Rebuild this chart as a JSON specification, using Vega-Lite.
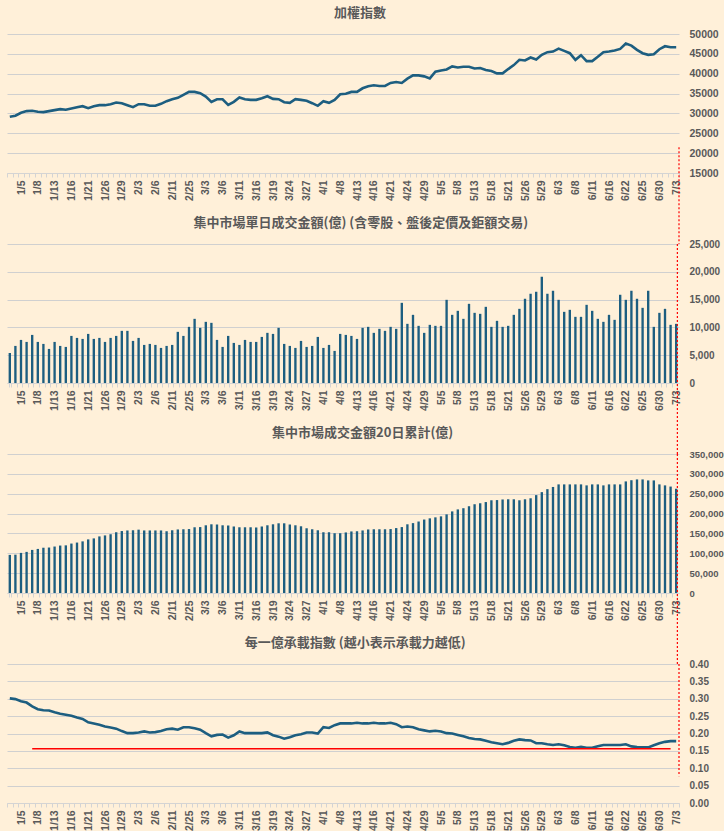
{
  "$schema": "https://vega.github.io/schema/vega-lite/v6.json",
  "background": "#FFF0D9",
  "padding": {"left": 2, "top": 7, "right": 0, "bottom": 0},
  "bounds": "flush",
  "spacing": 71,
  "data": {"values": [
    {"d":"12/31","i":29170,"v":5400,"c":96000,"r":0.301},
    {"d":"1/2","i":29420,"v":6670,"c":96500,"r":0.299},
    {"d":"1/5","i":30170,"v":7750,"c":101000,"r":0.293},
    {"d":"1/6","i":30580,"v":7390,"c":103500,"r":0.289},
    {"d":"1/7","i":30670,"v":8650,"c":108500,"r":0.278},
    {"d":"1/8","i":30420,"v":7390,"c":111000,"r":0.270},
    {"d":"1/9","i":30330,"v":7030,"c":114000,"r":0.267},
    {"d":"1/12","i":30580,"v":6130,"c":114500,"r":0.266},
    {"d":"1/13","i":30830,"v":7390,"c":117000,"r":0.261},
    {"d":"1/14","i":31080,"v":6670,"c":119500,"r":0.257},
    {"d":"1/15","i":30920,"v":6490,"c":120000,"r":0.254},
    {"d":"1/16","i":31250,"v":8470,"c":124500,"r":0.251},
    {"d":"1/19","i":31580,"v":8110,"c":127000,"r":0.246},
    {"d":"1/20","i":31830,"v":7930,"c":130000,"r":0.242},
    {"d":"1/21","i":31330,"v":8830,"c":135000,"r":0.232},
    {"d":"1/22","i":31830,"v":7930,"c":137500,"r":0.229},
    {"d":"1/23","i":32080,"v":8110,"c":142500,"r":0.225},
    {"d":"1/26","i":32080,"v":7390,"c":145000,"r":0.220},
    {"d":"1/27","i":32330,"v":8110,"c":148000,"r":0.217},
    {"d":"1/28","i":32750,"v":8470,"c":153000,"r":0.214},
    {"d":"1/29","i":32580,"v":9380,"c":156000,"r":0.207},
    {"d":"1/30","i":32080,"v":9380,"c":157500,"r":0.201},
    {"d":"2/2","i":31580,"v":7570,"c":158000,"r":0.201},
    {"d":"2/3","i":32330,"v":8110,"c":159500,"r":0.203},
    {"d":"2/4","i":32330,"v":6850,"c":157500,"r":0.206},
    {"d":"2/5","i":31920,"v":7030,"c":157500,"r":0.203},
    {"d":"2/6","i":31920,"v":6850,"c":157500,"r":0.204},
    {"d":"2/9","i":32420,"v":6310,"c":157500,"r":0.207},
    {"d":"2/10","i":33080,"v":6670,"c":155500,"r":0.212},
    {"d":"2/11","i":33580,"v":6850,"c":158000,"r":0.214},
    {"d":"2/23","i":33920,"v":9200,"c":160000,"r":0.211},
    {"d":"2/24","i":34670,"v":8470,"c":160500,"r":0.218},
    {"d":"2/25","i":35420,"v":10100,"c":161000,"r":0.218},
    {"d":"2/26","i":35420,"v":11540,"c":165500,"r":0.215},
    {"d":"3/2","i":35080,"v":9920,"c":166000,"r":0.211},
    {"d":"3/3","i":34250,"v":11000,"c":170500,"r":0.201},
    {"d":"3/4","i":32920,"v":10820,"c":173000,"r":0.192},
    {"d":"3/5","i":33580,"v":7750,"c":172500,"r":0.196},
    {"d":"3/6","i":33580,"v":6490,"c":170500,"r":0.197},
    {"d":"3/9","i":32170,"v":8470,"c":170000,"r":0.188},
    {"d":"3/10","i":32920,"v":7210,"c":167500,"r":0.195},
    {"d":"3/11","i":34000,"v":6850,"c":165500,"r":0.206},
    {"d":"3/12","i":33580,"v":7750,"c":165500,"r":0.201},
    {"d":"3/13","i":33420,"v":7390,"c":165500,"r":0.201},
    {"d":"3/16","i":33420,"v":7390,"c":165000,"r":0.201},
    {"d":"3/17","i":33830,"v":8290,"c":167500,"r":0.201},
    {"d":"3/18","i":34330,"v":9020,"c":170500,"r":0.203},
    {"d":"3/19","i":33670,"v":8830,"c":173000,"r":0.195},
    {"d":"3/20","i":33580,"v":9920,"c":175500,"r":0.191},
    {"d":"3/23","i":32830,"v":7030,"c":175500,"r":0.185},
    {"d":"3/24","i":32670,"v":6670,"c":172500,"r":0.189},
    {"d":"3/25","i":33580,"v":6310,"c":170500,"r":0.195},
    {"d":"3/26","i":33420,"v":7570,"c":168000,"r":0.198},
    {"d":"3/27","i":33170,"v":6490,"c":163000,"r":0.203},
    {"d":"3/30","i":32580,"v":6670,"c":160500,"r":0.203},
    {"d":"3/31","i":31920,"v":8290,"c":158000,"r":0.200},
    {"d":"4/1","i":33080,"v":6310,"c":153000,"r":0.218},
    {"d":"4/2","i":32670,"v":6850,"c":153000,"r":0.216},
    {"d":"4/7","i":33420,"v":5770,"c":150500,"r":0.224},
    {"d":"4/8","i":34830,"v":8830,"c":150500,"r":0.229},
    {"d":"4/9","i":34950,"v":8650,"c":152500,"r":0.229},
    {"d":"4/10","i":35420,"v":8470,"c":155000,"r":0.229},
    {"d":"4/13","i":35420,"v":7930,"c":155500,"r":0.231},
    {"d":"4/14","i":36330,"v":9920,"c":157500,"r":0.229},
    {"d":"4/15","i":36830,"v":10100,"c":160000,"r":0.229},
    {"d":"4/16","i":37080,"v":9020,"c":160500,"r":0.231},
    {"d":"4/17","i":36920,"v":9740,"c":160500,"r":0.229},
    {"d":"4/20","i":36920,"v":9380,"c":160500,"r":0.229},
    {"d":"4/21","i":37670,"v":10100,"c":161000,"r":0.231},
    {"d":"4/22","i":37920,"v":9740,"c":163500,"r":0.227},
    {"d":"4/23","i":37670,"v":14420,"c":166000,"r":0.218},
    {"d":"4/24","i":38750,"v":10640,"c":173000,"r":0.220},
    {"d":"4/27","i":39580,"v":12260,"c":176000,"r":0.218},
    {"d":"4/28","i":39580,"v":10280,"c":180000,"r":0.212},
    {"d":"4/29","i":39330,"v":9020,"c":185000,"r":0.209},
    {"d":"4/30","i":38830,"v":10460,"c":188000,"r":0.206},
    {"d":"5/4","i":40500,"v":10280,"c":190500,"r":0.208},
    {"d":"5/5","i":40830,"v":10280,"c":193000,"r":0.206},
    {"d":"5/6","i":41080,"v":14960,"c":198000,"r":0.201},
    {"d":"5/7","i":41830,"v":12260,"c":205500,"r":0.200},
    {"d":"5/8","i":41580,"v":12980,"c":210500,"r":0.196},
    {"d":"5/11","i":41750,"v":11540,"c":213500,"r":0.192},
    {"d":"5/12","i":41750,"v":14240,"c":218500,"r":0.187},
    {"d":"5/13","i":41330,"v":12620,"c":223500,"r":0.184},
    {"d":"5/14","i":41420,"v":12440,"c":226000,"r":0.183},
    {"d":"5/15","i":40920,"v":13700,"c":229000,"r":0.179},
    {"d":"5/18","i":40670,"v":10100,"c":233500,"r":0.175},
    {"d":"5/19","i":40080,"v":11180,"c":234000,"r":0.172},
    {"d":"5/20","i":40080,"v":10100,"c":235500,"r":0.169},
    {"d":"5/21","i":41170,"v":10280,"c":236000,"r":0.173},
    {"d":"5/22","i":42170,"v":12260,"c":236000,"r":0.179},
    {"d":"5/25","i":43500,"v":13340,"c":233500,"r":0.183},
    {"d":"5/26","i":43330,"v":15150,"c":236000,"r":0.181},
    {"d":"5/27","i":44080,"v":16050,"c":238500,"r":0.180},
    {"d":"5/28","i":43580,"v":16410,"c":246500,"r":0.172},
    {"d":"5/29","i":44750,"v":19110,"c":254000,"r":0.172},
    {"d":"6/1","i":45420,"v":16050,"c":261500,"r":0.169},
    {"d":"6/2","i":45580,"v":16590,"c":267000,"r":0.167},
    {"d":"6/3","i":46330,"v":14960,"c":273500,"r":0.169},
    {"d":"6/4","i":45750,"v":12800,"c":273500,"r":0.166},
    {"d":"6/5","i":45170,"v":13160,"c":273500,"r":0.161},
    {"d":"6/8","i":43500,"v":11900,"c":273500,"r":0.159},
    {"d":"6/9","i":44670,"v":11900,"c":273500,"r":0.162},
    {"d":"6/10","i":43170,"v":14060,"c":271000,"r":0.159},
    {"d":"6/11","i":43170,"v":12980,"c":273500,"r":0.159},
    {"d":"6/12","i":44250,"v":11540,"c":273500,"r":0.163},
    {"d":"6/15","i":45420,"v":11000,"c":271000,"r":0.167},
    {"d":"6/16","i":45580,"v":12260,"c":273500,"r":0.167},
    {"d":"6/17","i":45830,"v":11360,"c":273500,"r":0.167},
    {"d":"6/18","i":46250,"v":15870,"c":273500,"r":0.167},
    {"d":"6/22","i":47580,"v":14960,"c":281000,"r":0.169},
    {"d":"6/23","i":47080,"v":16590,"c":284000,"r":0.163},
    {"d":"6/24","i":46000,"v":15150,"c":286000,"r":0.161},
    {"d":"6/25","i":45170,"v":13520,"c":286000,"r":0.160},
    {"d":"6/26","i":44750,"v":16590,"c":283500,"r":0.160},
    {"d":"6/29","i":44920,"v":10100,"c":283500,"r":0.166},
    {"d":"6/30","i":46170,"v":12620,"c":273500,"r":0.172},
    {"d":"7/1","i":46920,"v":13340,"c":271000,"r":0.176},
    {"d":"7/2","i":46670,"v":10460,"c":268000,"r":0.178},
    {"d":"7/3","i":46670,"v":10640,"c":262500,"r":0.178}
  ]},
  "config": {
    "view": {"stroke": null},
    "title": {"font": "Noto Sans CJK TC", "fontSize": 13, "fontWeight": "bold", "color": "#595959", "anchor": "middle", "offset": 9, "frame": "bounds"},
    "axisX": {"domainColor": "#D4D4D4", "tickColor": "#D4D4D4", "tickSize": 4, "tickBand": "extent", "labelAngle": -90, "labelFont": "Liberation Sans", "labelFontWeight": "bold", "labelFontSize": 10.5, "labelColor": "#595959", "labelPadding": 3, "grid": false, "labelOverlap": false, "labelBound": false},
    "axisY": {"grid": true, "gridColor": "#D0D0D0", "gridOpacity": 1, "domain": false, "ticks": false, "labelOverlap": false, "labelPadding": 10, "labelFont": "Liberation Sans", "labelFontWeight": "bold", "labelColor": "#595959"}
  },
  "vconcat": [
    {
      "title": "加權指數",
      "width": 672, "height": 139,
      "encoding": {
        "x": {"field": "d", "type": "ordinal", "sort": null, "bandPosition": 0.5, "title": null,
              "scale": {"type": "band", "paddingInner": 0, "paddingOuter": 0},
              "axis": {"labelExpr": "indexof(['1/5','1/8','1/13','1/16','1/21','1/26','1/29','2/3','2/6','2/11','2/25','3/3','3/6','3/11','3/16','3/19','3/24','3/27','4/1','4/8','4/13','4/16','4/21','4/24','4/29','5/5','5/8','5/13','5/18','5/21','5/26','5/29','6/3','6/8','6/11','6/16','6/22','6/25','6/30','7/3'], datum.value) >= 0 ? datum.value : ''"}}
      },
      "layer": [
        {
          "mark": {"type": "line", "color": "#1D5E80", "strokeWidth": 2.6},
          "encoding": {"y": {"field": "i", "type": "quantitative", "title": null, "scale": {"domain": [15000, 50000], "zero": false, "nice": false},
            "axis": {"orient": "right", "grid": true, "labelOverlap": false, "labelFontSize": 10.5, "values": [15000, 20000, 25000, 30000, 35000, 40000, 45000, 50000], "format": "d"}}}
        },
        {
          "transform": [{"filter": "datum.d == '7/3'"}],
          "mark": {"type": "rule", "color": "#FF0000", "strokeWidth": 1.2, "strokeDash": [2, 2]},
          "encoding": {"x": {"field": "d", "type": "ordinal", "sort": null, "bandPosition": 1}, "y": {"datum": 21500, "type": "quantitative", "title": null, "axis": {"orient": "right", "grid": true, "labelOverlap": false, "labelFontSize": 10.5, "values": [15000, 20000, 25000, 30000, 35000, 40000, 45000, 50000], "format": "d"}}, "y2": {"datum": -2900}}
        }
      ]
    },
    {
      "title": "集中市場單日成交金額(億) (含零股、盤後定價及鉅額交易)",
      "width": 672, "height": 139,
      "encoding": {
        "x": {"field": "d", "type": "ordinal", "sort": null, "title": null,
              "scale": {"type": "band", "paddingInner": 0.58, "paddingOuter": 0.29},
              "axis": {"labelExpr": "indexof(['1/5','1/8','1/13','1/16','1/21','1/26','1/29','2/3','2/6','2/11','2/25','3/3','3/6','3/11','3/16','3/19','3/24','3/27','4/1','4/8','4/13','4/16','4/21','4/24','4/29','5/5','5/8','5/13','5/18','5/21','5/26','5/29','6/3','6/8','6/11','6/16','6/22','6/25','6/30','7/3'], datum.value) >= 0 ? datum.value : ''"}}
      },
      "layer": [
        {
          "mark": {"type": "bar", "color": "#1D5E80"},
          "encoding": {"y": {"field": "v", "type": "quantitative", "title": null, "scale": {"domain": [0, 25000], "nice": false},
            "axis": {"orient": "right", "grid": true, "labelOverlap": false, "labelFontSize": 10, "values": [0, 5000, 10000, 15000, 20000, 25000], "format": ",d"}}}
        },
        {
          "transform": [{"filter": "datum.d == '7/3'"}],
          "mark": {"type": "rule", "color": "#FF0000", "strokeWidth": 1.2, "strokeDash": [2, 2]},
          "encoding": {"x": {"field": "d", "type": "ordinal", "sort": null, "bandPosition": 1}, "y": {"datum": 25000, "type": "quantitative", "title": null, "axis": {"orient": "right", "grid": true, "labelOverlap": false, "labelFontSize": 10, "values": [0, 5000, 10000, 15000, 20000, 25000], "format": ",d"}}, "y2": {"datum": -12800}}
        }
      ]
    },
    {
      "title": "集中市場成交金額20日累計(億)",
      "width": 672, "height": 139,
      "encoding": {
        "x": {"field": "d", "type": "ordinal", "sort": null, "title": null,
              "scale": {"type": "band", "paddingInner": 0.58, "paddingOuter": 0.29},
              "axis": {"labelExpr": "indexof(['1/5','1/8','1/13','1/16','1/21','1/26','1/29','2/3','2/6','2/11','2/25','3/3','3/6','3/11','3/16','3/19','3/24','3/27','4/1','4/8','4/13','4/16','4/21','4/24','4/29','5/5','5/8','5/13','5/18','5/21','5/26','5/29','6/3','6/8','6/11','6/16','6/22','6/25','6/30','7/3'], datum.value) >= 0 ? datum.value : ''"}}
      },
      "layer": [
        {
          "mark": {"type": "bar", "color": "#1D5E80"},
          "encoding": {"y": {"field": "c", "type": "quantitative", "title": null, "scale": {"domain": [0, 350000], "nice": false},
            "axis": {"orient": "right", "grid": true, "labelOverlap": false, "labelFontSize": 9.5, "values": [0, 50000, 100000, 150000, 200000, 250000, 300000, 350000], "format": ",d"}}}
        },
        {
          "transform": [{"filter": "datum.d == '7/3'"}],
          "mark": {"type": "rule", "color": "#FF0000", "strokeWidth": 1.2, "strokeDash": [2, 2]},
          "encoding": {"x": {"field": "d", "type": "ordinal", "sort": null, "bandPosition": 1}, "y": {"datum": 350000, "type": "quantitative", "title": null, "axis": {"orient": "right", "grid": true, "labelOverlap": false, "labelFontSize": 9.5, "values": [0, 50000, 100000, 150000, 200000, 250000, 300000, 350000], "format": ",d"}}, "y2": {"datum": -178800}}
        }
      ]
    },
    {
      "title": "每一億承載指數 (越小表示承載力越低)",
      "width": 672, "height": 139,
      "encoding": {
        "x": {"field": "d", "type": "ordinal", "sort": null, "bandPosition": 0.5, "title": null,
              "scale": {"type": "band", "paddingInner": 0, "paddingOuter": 0},
              "axis": {"labelExpr": "indexof(['1/5','1/8','1/13','1/16','1/21','1/26','1/29','2/3','2/6','2/11','2/25','3/3','3/6','3/11','3/16','3/19','3/24','3/27','4/1','4/8','4/13','4/16','4/21','4/24','4/29','5/5','5/8','5/13','5/18','5/21','5/26','5/29','6/3','6/8','6/11','6/16','6/22','6/25','6/30','7/3'], datum.value) >= 0 ? datum.value : ''"}}
      },
      "layer": [
        {
          "mark": {"type": "line", "color": "#1D5E80", "strokeWidth": 2.6},
          "encoding": {"y": {"field": "r", "type": "quantitative", "title": null, "scale": {"domain": [0, 0.4], "nice": false},
            "axis": {"orient": "right", "grid": true, "labelOverlap": false, "labelFontSize": 10, "values": [0, 0.05, 0.1, 0.15, 0.2, 0.25, 0.3, 0.35, 0.4], "format": ".2f"}}}
        },
        {
          "transform": [{"filter": "datum.d == '1/7'"}],
          "mark": {"type": "rule", "color": "#FF0000", "strokeWidth": 1.5},
          "encoding": {"x": {"field": "d", "type": "ordinal", "sort": null, "bandPosition": 0.5}, "x2": {"datum": "7/2"}, "y": {"datum": 0.156, "type": "quantitative", "title": null, "axis": {"orient": "right", "grid": true, "labelOverlap": false, "labelFontSize": 10, "values": [0, 0.05, 0.1, 0.15, 0.2, 0.25, 0.3, 0.35, 0.4], "format": ".2f"}}}
        },
        {
          "transform": [{"filter": "datum.d == '7/3'"}],
          "mark": {"type": "rule", "color": "#FF0000", "strokeWidth": 1.2, "strokeDash": [2, 2]},
          "encoding": {"x": {"field": "d", "type": "ordinal", "sort": null, "bandPosition": 1}, "y": {"datum": 0.4, "type": "quantitative", "title": null, "axis": {"orient": "right", "grid": true, "labelOverlap": false, "labelFontSize": 10, "values": [0, 0.05, 0.1, 0.15, 0.2, 0.25, 0.3, 0.35, 0.4], "format": ".2f"}}, "y2": {"datum": 0.077}}
        }
      ]
    }
  ]
}
